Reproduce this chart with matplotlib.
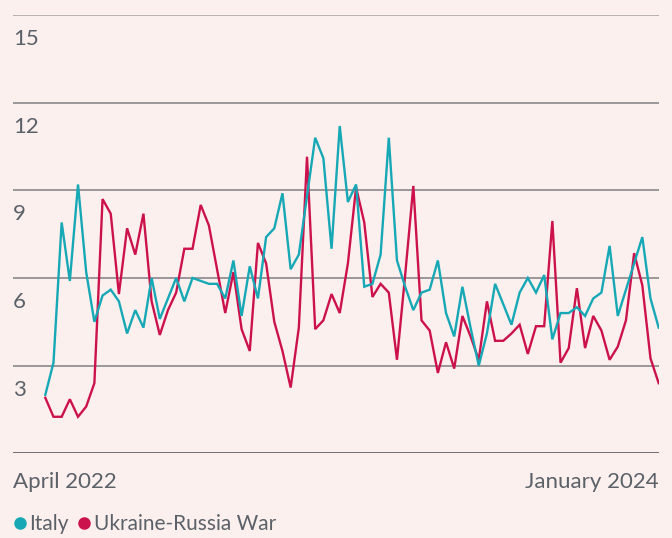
from __future__ import annotations

import matplotlib

matplotlib.use("Agg")
import matplotlib.pyplot as plt
import matplotlib.transforms as mtransforms
from matplotlib.lines import Line2D

# weekly-ish readings, April 2022 -> January 2024
italy = [2.0, 3.1, 7.9, 5.9, 9.2, 6.2, 4.5, 5.4, 5.6, 5.2,
         4.1, 4.9, 4.3, 6.0, 4.6, 5.3, 6.0, 5.2, 6.0, 5.9,
         5.8, 5.8, 5.3, 6.6, 4.7, 6.4, 5.3, 7.4, 7.7, 8.9,
         6.3, 6.8, 8.8, 10.8, 10.1, 7.0, 11.2, 8.6, 9.2, 5.7,
         5.8, 6.8, 10.8, 6.6, 5.7, 4.9, 5.5, 5.6, 6.6, 4.8,
         4.0, 5.7, 4.3, 3.0, 4.1, 5.8, 5.1, 4.4, 5.5, 6.0,
         5.5, 6.1, 3.9, 4.8, 4.8, 5.0, 4.7, 5.3, 5.5, 7.1,
         4.7, 5.6, 6.5, 7.4, 5.3, 4.3]
ukraine_war = [1.9, 1.25, 1.25, 1.85, 1.25, 1.6, 2.4, 8.7, 8.2, 5.45,
               7.7, 6.8, 8.2, 5.2, 4.05, 4.9, 5.5, 7.0, 7.0, 8.5,
               7.8, 6.3, 4.8, 6.2, 4.25, 3.5, 7.2, 6.5, 4.5, 3.5,
               2.25, 4.3, 10.15, 4.25, 4.55, 5.45, 4.8, 6.5, 9.1, 7.9,
               5.35, 5.8, 5.5, 3.2, 6.1, 9.15, 4.55, 4.2, 2.75, 3.8,
               2.9, 4.7, 4.0, 3.2, 5.2, 3.85, 3.85, 4.1, 4.4, 3.4,
               4.35, 4.35, 7.95, 3.1, 3.6, 5.65, 3.6, 4.7, 4.2, 3.2,
               3.65, 4.55, 6.85, 5.75, 3.25, 2.4]
y_ticks = [3, 6, 9, 12, 15]
x_labels = ["April 2022", "January 2024"]
series_names = ["Italy", "Ukraine-Russia War"]

BG = "#FCF0EE"
TEAL = "#17A8B6"
CLARET = "#CC124D"
TEXT = "#5B6168"
GRID = "#7E7F84"

plt.rcParams["font.family"] = ["Lato", "DejaVu Sans"]


def main() -> None:
    fig = plt.figure(figsize=(6.72, 5.38), dpi=100, facecolor=BG)
    W, H = 672, 538
    ax = fig.add_axes([13 / W, 1 - 453.3 / H, (659 - 13) / W, (453.3 - 15) / H])
    ax.set_facecolor(BG)

    x = list(range(len(italy)))
    ax.set_xlim(-3.95, len(italy) - 1 + 0.04)
    ax.set_ylim(0, 15)

    for v in [0] + y_ticks:
        if v == 15:
            color, lw = "#B2ACAC", 1.3
        elif v == 0:
            color, lw = "#62656B", 1.3
        else:
            color, lw = GRID, 1.1
        ax.axhline(v, color=color, lw=lw, zorder=1)

    ax.plot(x, italy, color=TEAL, lw=1.7, zorder=3, solid_joinstyle="miter")
    ax.plot(x, ukraine_war, color=CLARET, lw=1.7, zorder=2, solid_joinstyle="miter")

    # y labels hang below their gridline
    below = mtransforms.offset_copy(ax.get_yaxis_transform(), fig=fig, x=0, y=-14, units="dots")
    for v in y_ticks:
        ax.text(0, v, str(v), transform=below, ha="left", va="top", fontsize=16, color=TEXT)

    ax.text(0, -0.065, x_labels[0], transform=ax.transAxes, ha="left", va="center",
            fontsize=16, color=TEXT)
    ax.text(1, -0.065, x_labels[1], transform=ax.transAxes, ha="right", va="center",
            fontsize=16, color=TEXT)

    for side in ax.spines.values():
        side.set_visible(False)
    ax.set_xticks([])
    ax.set_yticks([])

    handles = [
        Line2D([], [], marker="o", ls="", color=TEAL, markersize=8),
        Line2D([], [], marker="o", ls="", color=CLARET, markersize=8),
    ]
    fig.legend(handles, series_names, loc="lower left", bbox_to_anchor=(0.0, -0.02),
               ncol=2, frameon=False, fontsize=15, labelcolor=TEXT,
               handlelength=0.5, handletextpad=0.2, columnspacing=0.5, borderaxespad=0.3)

    fig.savefig("out.png", dpi=100, facecolor=BG)
    plt.close(fig)


if __name__ == "__main__":
    main()
